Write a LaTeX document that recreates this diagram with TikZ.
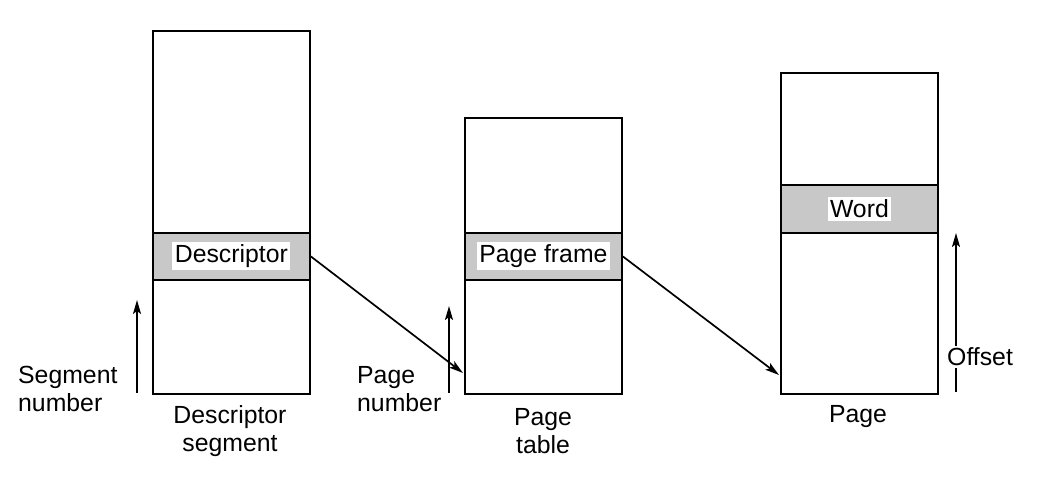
\documentclass[tikz,border=0pt]{standalone}
\usepackage{fontspec}
\setmainfont{Liberation Sans}
\usetikzlibrary{arrows.meta,calc}
\definecolor{bandgray}{RGB}{200,200,200}
\tikzset{
  mem/.style={draw, line width=1.8pt, minimum width=157pt, inner sep=0pt, anchor=north west},
  band/.style={draw, line width=1.8pt, fill=bandgray, minimum width=157pt, minimum height=47pt, inner sep=0pt, anchor=north west},
  txt/.style={font=\fontsize{24.8}{28}\selectfont, inner sep=1pt},
  lbl/.style={txt, fill=white, inner sep=2.5pt},
  arr/.style={line width=1.7pt, -{Stealth[length=14pt,width=8pt,inset=3pt]}},
}
\begin{document}
\begin{tikzpicture}[x=1pt,y=-1pt]
\useasboundingbox (0,0) rectangle (1047,486);
% Descriptor segment
\node[mem, minimum height=363pt] (ds) at (152,30) {};
\node[band] (dsb) at (152,232) {};
\node[lbl] (dsl) at (dsb.center) {Descriptor};
% Page table
\node[mem, minimum height=276pt] (pt) at (464,117) {};
\node[band] (ptb) at (464,232) {};
\node[lbl] (ptl) at (ptb.center) {Page frame};
% Page
\node[mem, minimum height=321pt] (pg) at (780,72) {};
\node[band, minimum height=48pt] (pgb) at (780,184) {};
\node[lbl] (pgl) at (pgb.center) {Word};
% captions
\node[txt, align=center] (dscap) at (230,431) {Descriptor\\segment};
\node[txt, align=center] (ptcap) at (543,431) {Page\\table};
\node[txt] (pgcap) at (858,417) {Page};
% side labels
\node[txt, align=left, anchor=west] (snl) at (17,389) {Segment\\number};
\node[txt, align=left, anchor=west] (pnl) at (356,389) {Page\\number};
% side arrows
\coordinate (sn0) at (137,393);
\coordinate (sn1) at (137,300);
\draw[arr] (sn0) -- (sn1);
\coordinate (pn0) at (449,393);
\coordinate (pn1) at (449,306);
\draw[arr] (pn0) -- (pn1);
\coordinate (of0) at (956,392);
\coordinate (of1) at (956,233);
\draw[arr] (of0) -- (of1);
\node[txt, fill=white, anchor=west, inner sep=2pt] (ofl) at (945,357) {Offset};
% diagonal connectors
\coordinate (ptin) at (463,373);
\coordinate (pgin) at (779,375);
\draw[arr] (dsb.east) -- (ptin);
\draw[arr] (ptb.east) -- (pgin);
\end{tikzpicture}
\end{document}
